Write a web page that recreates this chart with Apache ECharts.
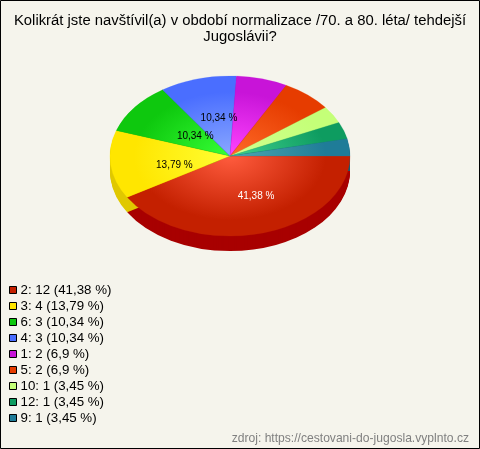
<!DOCTYPE html>
<html>
<head>
<meta charset="utf-8">
<style>html,body{margin:0;padding:0;background:#f5f4ec}#c{width:480px;height:449px}</style>
<script src="https://cdn.jsdelivr.net/npm/echarts@6/dist/echarts.min.js"></script>
</head>
<body>
<div id="c"></div>
<script>
const categories = ['2', '3', '6', '4', '1', '5', '10', '12', '9'];
const values = [12, 4, 3, 3, 2, 2, 1, 1, 1];
const percents = ['41,38', '13,79', '10,34', '10,34', '6,9', '6,9', '3,45', '3,45', '3,45'];
const baseColors = ['#c42000', '#ffe600', '#0ec80e', '#4a6eff', '#c814d8', '#e63c00', '#c4ff78', '#0e9c60', '#1f7c98'];
const lightColors = ['#ff5c3e', '#ffff33', '#36ff36', '#8aa8ff', '#ff44ff', '#ff6a28', '#d0ff90', '#40d090', '#50a8b0'];
const sideColors = ['#a80000', '#e0c800', '#0a9a0a', '#3050c0', '#9a10a8', '#b03000', '#98c860', '#0a7848', '#145c74'];
const labelNudges = [[10, 2], [4, 5], [13, 4], [5, 1]];
const titleText = 'Kolikrát jste navštívil(a) v období normalizace /70. a 80. léta/ tehdejší\nJugoslávii?';
const sourceText = 'zdroj: https://cestovani-do-jugosla.vyplnto.cz';

const CX = 230, CY = 156, R = 120, SQUASH = 80 / 120, DEPTH = 15;
const total = values.reduce((a, b) => a + b, 0);
const names = categories.map((c, i) => c + ': ' + values[i] + ' (' + percents[i] + ' %)');
const font = '"Liberation Sans", Arial, sans-serif';

function angles(i) {
  let before = 0;
  for (let k = 0; k < i; k++) before += values[k];
  return [before / total * Math.PI * 2, (before + values[i]) / total * Math.PI * 2];
}

const depthSeries = {
  type: 'custom', name: 'depth', coordinateSystem: 'none', silent: true, z: 1,
  data: values.map(v => [v]),
  renderItem(params) {
    const i = params.dataIndex, a = angles(i), children = [];
    for (let d = DEPTH; d >= 1; d--) {
      children.push({
        type: 'sector',
        shape: { cx: 0, cy: d / SQUASH, r: R, r0: 0, startAngle: a[0], endAngle: a[1], clockwise: true },
        style: { fill: sideColors[i] }
      });
    }
    return { type: 'group', x: CX, y: CY, scaleX: 1, scaleY: SQUASH, children };
  }
};

const sliceSeries = values.map((v, i) => ({
  type: 'custom', name: names[i], coordinateSystem: 'none', silent: true, z: 2,
  itemStyle: { color: baseColors[i] },
  data: [[v]],
  renderItem(params, api) {
    const a = angles(i), mid = (a[0] + a[1]) / 2, children = [{
      type: 'group', x: CX, y: CY, scaleX: 1, scaleY: SQUASH,
      children: [{
        type: 'sector',
        shape: { cx: 0, cy: 0, r: R, r0: 0, startAngle: a[0], endAngle: a[1], clockwise: true },
        style: {
          fill: { type: 'radial', x: 0, y: 0, r: R, global: true,
            colorStops: [{ offset: 0, color: lightColors[i] }, { offset: 0.8, color: baseColors[i] }, { offset: 1, color: baseColors[i] }] },
          stroke: baseColors[i], lineWidth: 0.3
        }
      }]
    }];
    if (api.value(0) / total > 0.1) {
      const n = labelNudges[i];
      children.push({
        type: 'text', z2: 100,
        x: CX + Math.cos(mid) * R * 0.5 + n[0],
        y: CY + Math.sin(mid) * R * SQUASH * 0.5 + n[1],
        style: { text: percents[i] + ' %', fill: i === 0 ? '#ffffff' : '#000000', font: '10px ' + font, align: 'center', verticalAlign: 'middle' }
      });
    }
    return { type: 'group', children };
  }
}));

const chart = echarts.init(document.getElementById('c'), null, { renderer: 'canvas' });
chart.setOption({
  animation: false,
  backgroundColor: '#f5f4ec',
  title: [{
    text: titleText, left: 235, top: 8, textAlign: 'center',
    textStyle: { fontFamily: font, fontSize: 14.85, fontWeight: 'normal', color: '#000', lineHeight: 16 }
  }, {
    text: sourceText, right: 6, top: 428,
    textStyle: { fontFamily: font, fontSize: 12.1, fontWeight: 'normal', color: '#808080' }
  }],
  legend: {
    orient: 'vertical', left: 9, top: 282, padding: 0, itemGap: 0,
    itemWidth: 7, itemHeight: 7, icon: 'rect', selectedMode: false,
    textStyle: { fontFamily: font, fontSize: 13.3, color: '#000', lineHeight: 16, padding: [0, 0, 0, -1] },
    data: names.map((n, i) => ({ name: n, itemStyle: { color: baseColors[i], borderColor: '#000', borderWidth: 1 } }))
  },
  graphic: [{ type: 'rect', shape: { x: 0.5, y: 0.5, width: 479, height: 448 }, style: { fill: null, stroke: '#000', lineWidth: 1 }, silent: true, z: 10 }],
  series: [depthSeries].concat(sliceSeries)
});
</script>
</body>
</html>
